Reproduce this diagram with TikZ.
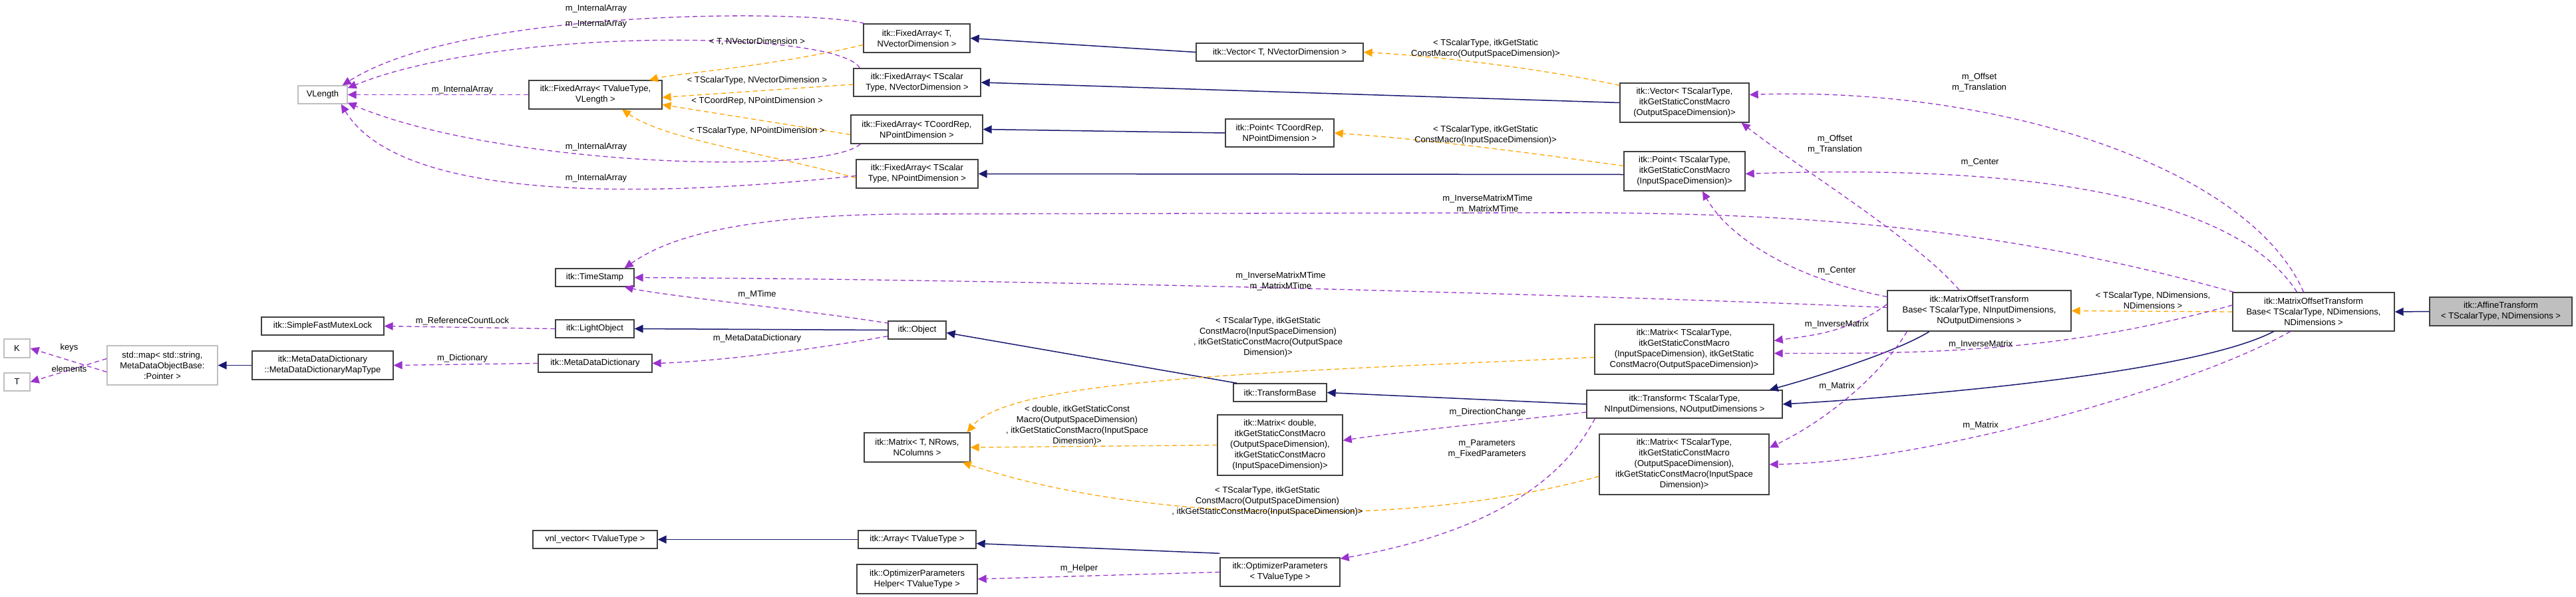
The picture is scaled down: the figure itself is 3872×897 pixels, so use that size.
\documentclass[tikz,border=0pt]{standalone}
\usepackage{fontspec}
\setmainfont{Liberation Sans}
\usetikzlibrary{arrows.meta}
\definecolor{navy}{HTML}{191970}
\definecolor{purp}{HTML}{9A32CD}
\definecolor{orng}{HTML}{FFA500}
\newcommand{\fs}{\fontsize{13}{16}\selectfont}
\newcommand{\nbox}[7][box]{\node[#1,minimum width={(#5-#3)*1pt},minimum height={(#6-#4)*1pt}] (#2) at ({(#3+#5)/2},{(#4+#6)/2}) {#7};}
\newcommand{\lb}[3]{\node[lbl] (#1) at (#2) {#3};}
\tikzset{
 box/.style={draw=black!75,line width=1.3pt,fill=white,inner sep=0pt,align=center,font=\fs},
 gbox/.style={box,draw=black!25},
 hbox/.style={box,fill=black!25},
 lbl/.style={inner sep=0pt,align=center,font=\fs},
 tip/.style={-{Triangle[length=13pt,width=12pt]}},
 inh/.style={tip,draw=navy,line width=1.5pt},
 mem/.style={tip,draw=purp,line width=1.3pt,dash pattern=on 7pt off 5pt},
 tpl/.style={tip,draw=orng,line width=1.3pt,dash pattern=on 7pt off 5pt},
}
\begin{document}
\begin{tikzpicture}[x=1pt,y=-1pt]
\useasboundingbox (0,0) rectangle (3872,897);
\nbox[gbox]{vlen}{448}{129}{522}{156}{VLength}
\nbox{fatv}{795}{121}{995}{164}{itk::FixedArray< TValueType,\\ VLength >}
\nbox{ts}{835}{404}{953}{431}{itk::TimeStamp}
\nbox{fatnv}{1298}{36}{1458}{79}{itk::FixedArray< T,\\ NVectorDimension >}
\nbox{fatsnv}{1283}{103}{1474}{145}{itk::FixedArray< TScalar\\Type, NVectorDimension >}
\nbox{fatcnp}{1279}{173}{1477}{216}{itk::FixedArray< TCoordRep,\\ NPointDimension >}
\nbox{fatsnp}{1287}{240}{1470}{283}{itk::FixedArray< TScalar\\Type, NPointDimension >}
\nbox{vtnv}{1798}{65}{2049}{92}{itk::Vector< T, NVectorDimension >}
\nbox{ptcnp}{1842}{179}{2005}{221}{itk::Point< TCoordRep,\\ NPointDimension >}
\nbox{vts}{2435}{125}{2629}{184}{itk::Vector< TScalarType,\\ itkGetStaticConstMacro\\ (OutputSpaceDimension)>}
\nbox{pts}{2441}{228}{2623}{287}{itk::Point< TScalarType,\\ itkGetStaticConstMacro\\ (InputSpaceDimension)>}
\nbox{motbg}{2837}{437}{3113}{498}{itk::MatrixOffsetTransform\\Base< TScalarType, NInputDimensions,\\ NOutputDimensions >}
\nbox[gbox]{kk}{6}{510}{45}{538}{K}
\nbox[gbox]{tt}{6}{561}{45}{588}{T}
\nbox[gbox]{smap}{161}{520}{327}{579}{std::map< std::string,\\ MetaDataObjectBase:\\:Pointer >}
\nbox{sfml}{393}{477}{577}{504}{itk::SimpleFastMutexLock}
\nbox{lobj}{835}{481}{953}{508}{itk::LightObject}
\nbox{mddmt}{379}{528}{591}{571}{itk::MetaDataDictionary\\::MetaDataDictionaryMapType}
\nbox{mdd}{809}{533}{980}{560}{itk::MetaDataDictionary}
\nbox{vnl}{801}{798}{988}{825}{vnl\_vector< TValueType >}
\nbox{obj}{1335}{483}{1422}{510}{itk::Object}
\nbox{tb}{1854}{577}{1994}{604}{itk::TransformBase}
\nbox{mt}{1299}{651}{1458}{695}{itk::Matrix< T, NRows,\\ NColumns >}
\nbox{mdbl}{1830}{624}{2018}{715}{itk::Matrix< double,\\ itkGetStaticConstMacro\\ (OutputSpaceDimension),\\ itkGetStaticConstMacro\\ (InputSpaceDimension)>}
\nbox{arr}{1290}{798}{1467}{825}{itk::Array< TValueType >}
\nbox{oph}{1288}{849}{1469}{893}{itk::OptimizerParameters\\Helper< TValueType >}
\nbox{op}{1834}{839}{2014}{882}{itk::OptimizerParameters\\< TValueType >}
\nbox{mtsio}{2397}{488}{2666}{563}{itk::Matrix< TScalarType,\\ itkGetStaticConstMacro\\ (InputSpaceDimension), itkGetStatic\\ConstMacro(OutputSpaceDimension)>}
\nbox{tr}{2385}{587}{2679}{629}{itk::Transform< TScalarType,\\ NInputDimensions, NOutputDimensions >}
\nbox{mtsoi}{2404}{653}{2659}{744}{itk::Matrix< TScalarType,\\ itkGetStaticConstMacro\\ (OutputSpaceDimension),\\ itkGetStaticConstMacro(InputSpace\\Dimension)>}
\nbox{motbn}{3356}{440}{3599}{498}{itk::MatrixOffsetTransform\\Base< TScalarType, NDimensions,\\ NDimensions >}
\nbox[hbox]{aff}{3652}{447}{3866}{490}{itk::AffineTransform\\< TScalarType, NDimensions >}
% inheritance
\draw[inh] (aff.west) -- (motbn.east);
\draw[inh] (vtnv.west) -- (fatnv.east);
\draw[inh] (vts.west) -- (fatsnv.east);
\draw[inh] (ptcnp.west) -- (fatcnp.east);
\draw[inh] ([yshift=-5pt]pts.west) -- (fatsnp.east);
\draw[inh] (obj.west) -- (lobj.east);
\draw[inh] (mddmt.west) -- (smap.east);
\draw[inh] ([xshift=6pt]tb.north west) -- ([yshift=-4pt]obj.east);
\draw[inh] (tr.west) -- (tb.east);
\draw[inh] ([xshift=-75pt]motbg.south) .. controls (2850,530) and (2720,570) .. ([xshift=-20pt]tr.north east);
\draw[inh] ([xshift=-60pt]motbn.south) .. controls (3300,560) and (2900,595) .. (tr.east);
\draw[inh] (arr.west) -- (vnl.east);
\draw[inh] ([yshift=6pt]op.north west) -- ([yshift=-6pt]arr.east);
% templates
\draw[tpl] (motbn.west) -- (motbg.east);
\draw[tpl] ([yshift=-10pt]fatnv.west) .. controls (1160,100) and (1020,110) .. ([xshift=-20pt]fatv.north east);
\draw[tpl] ([yshift=-3pt]fatsnv.west) -- ([yshift=-4pt]fatv.east);
\draw[tpl] ([yshift=-8pt]fatcnp.west) -- ([yshift=-15pt]fatv.east);
\draw[tpl] ([yshift=-6pt]fatsnp.west) .. controls (1150,230) and (1000,210) .. ([xshift=40pt]fatv.south);
\draw[tpl] ([yshift=-4pt]vts.north west) .. controls (2300,100) and (2150,84) .. (vtnv.east);
\draw[tpl] ([yshift=8pt]pts.west) .. controls (2300,230) and (2150,210) .. (ptcnp.east);
\draw[tpl] ([yshift=-12pt]mtsio.west) .. controls (1900,560) and (1520,570) .. ([xshift=-5pt]mt.north east);
\draw[tpl] (mdbl.west) -- (mt.east);
\draw[tpl] ([yshift=-18pt]mtsoi.west) .. controls (2100,800) and (1700,780) .. ([xshift=-12pt]mt.south east);
% members
\draw[mem] ([xshift=2pt]fatnv.north west) .. controls (1230,15) and (700,10) .. ([xshift=-8pt]vlen.north east);
\draw[mem] ([xshift=10pt]fatsnv.north west) .. controls (1260,45) and (750,40) .. ([yshift=-4pt]vlen.north east);
\draw[mem] (fatv.west) -- (vlen.east);
\draw[mem] ([xshift=15pt]fatcnp.south west) .. controls (1240,265) and (750,250) .. ([yshift=2pt]vlen.south east);
\draw[mem] ([yshift=-3pt]fatsnp.west) .. controls (950,300) and (600,300) .. ([xshift=-10pt]vlen.south east);
\draw[mem] ([xshift=2pt]motbn.north west) .. controls (3000,340) and (2700,318) .. (2300,320) -- (1350,322) .. controls (1100,325) and (1000,360) .. ([xshift=-15pt]ts.north east);
\draw[mem] ([yshift=5pt]motbg.west) .. controls (2300,440) and (1500,420) .. (ts.east);
\draw[mem] ([xshift=2pt,yshift=-4pt]obj.north west) .. controls (1200,465) and (1000,445) .. ([xshift=-15pt]ts.south east);
\draw[mem] (lobj.west) -- (sfml.east);
\draw[mem] (mdd.west) -- (mddmt.east);
\draw[mem] ([yshift=5pt]obj.south west) .. controls (1200,530) and (1050,545) .. (mdd.east);
\draw[mem] ([yshift=-10pt]smap.west) -- (kk.east);
\draw[mem] ([yshift=10pt]smap.west) -- (tt.east);
\draw[mem] ([xshift=-15pt]motbn.north) .. controls (3380,250) and (3000,130) .. ([yshift=12pt]vts.east);
\draw[mem] ([xshift=-30pt]motbg.north) .. controls (2880,360) and (2700,250) .. ([xshift=-12pt]vts.south east);
\draw[mem] ([xshift=-25pt]motbn.north) .. controls (3370,310) and (3100,245) .. ([yshift=-4pt]pts.east);
\draw[mem] ([yshift=-10pt]motbg.north west) .. controls (2700,420) and (2600,360) .. ([xshift=27pt]pts.south);
\draw[mem] ([yshift=10pt]motbg.west) .. controls (2780,500) and (2720,505) .. ([yshift=13pt]mtsio.east);
\draw[mem] ([yshift=10pt]motbn.west) .. controls (3100,530) and (2900,532) .. ([yshift=-6pt]mtsio.east);
\draw[mem] ([xshift=30pt]motbg.south west) .. controls (2830,560) and (2750,630) .. ([yshift=25pt]mtsoi.east);
\draw[mem] ([xshift=-35pt]motbn.south) .. controls (3300,580) and (2900,695) .. (mtsoi.east);
\draw[mem] ([yshift=-12pt]tr.west) .. controls (2250,635) and (2100,650) .. ([yshift=7pt]mdbl.east);
\draw[mem] ([xshift=13pt]tr.south west) .. controls (2370,680) and (2300,790) .. ([yshift=-2pt]op.north east);
\draw[mem] (op.west) -- (oph.east);
% labels
\lb{l1}{896,13}{m\_InternalArray}
\lb{l2}{896,36}{m\_InternalArray}
\lb{l3}{695,135}{m\_InternalArray}
\lb{l4}{896,221}{m\_InternalArray}
\lb{l5}{896,268}{m\_InternalArray}
\lb{l6}{1138,63}{< T, NVectorDimension >}
\lb{l7}{1138,121}{< TScalarType, NVectorDimension >}
\lb{l8}{1138,152}{< TCoordRep, NPointDimension >}
\lb{l9}{1138,197}{< TScalarType, NPointDimension >}
\lb{l10}{2233,73}{< TScalarType, itkGetStatic\\ConstMacro(OutputSpaceDimension)>}
\lb{l11}{2233,203}{< TScalarType, itkGetStatic\\ConstMacro(InputSpaceDimension)>}
\lb{l12}{2236,307}{m\_InverseMatrixMTime\\m\_MatrixMTime}
\lb{l13}{1925,423}{m\_InverseMatrixMTime\\m\_MatrixMTime}
\lb{l14}{1138,443}{m\_MTime}
\lb{l15}{104,523}{keys}
\lb{l16}{104,555}{elements}
\lb{l17}{695,483}{m\_ReferenceCountLock}
\lb{l18}{695,539}{m\_Dictionary}
\lb{l19}{1138,509}{m\_MetaDataDictionary}
\lb{l20}{1906,507}{< TScalarType, itkGetStatic\\ConstMacro(InputSpaceDimension)\\, itkGetStaticConstMacro(OutputSpace\\Dimension)>}
\lb{l21}{1619,640}{< double, itkGetStaticConst\\Macro(OutputSpaceDimension)\\, itkGetStaticConstMacro(InputSpace\\Dimension)>}
\lb{l22}{1905,754}{< TScalarType, itkGetStatic\\ConstMacro(OutputSpaceDimension)\\, itkGetStaticConstMacro(InputSpaceDimension)>}
\lb{l23}{1622,855}{m\_Helper}
\lb{l24}{2758,217}{m\_Offset\\m\_Translation}
\lb{l25}{2975,124}{m\_Offset\\m\_Translation}
\lb{l26}{2761,407}{m\_Center}
\lb{l27}{2976,244}{m\_Center}
\lb{l28}{2761,488}{m\_InverseMatrix}
\lb{l29}{2977,518}{m\_InverseMatrix}
\lb{l30}{2761,581}{m\_Matrix}
\lb{l31}{2977,640}{m\_Matrix}
\lb{l32}{2236,620}{m\_DirectionChange}
\lb{l33}{2235,675}{m\_Parameters\\m\_FixedParameters}
\lb{l34}{3236,452}{< TScalarType, NDimensions,\\ NDimensions >}
\end{tikzpicture}
\end{document}
